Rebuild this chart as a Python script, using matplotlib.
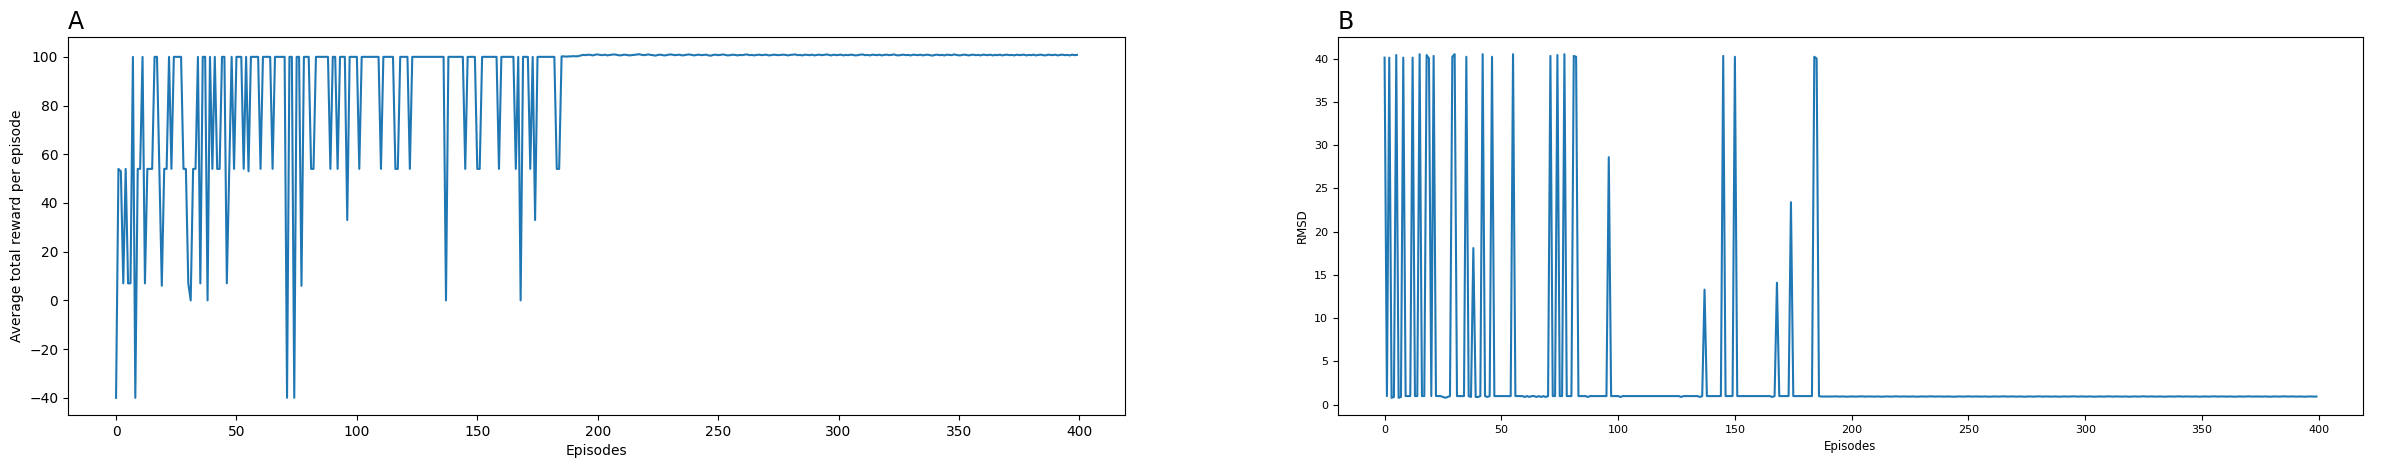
import matplotlib
matplotlib.use("Agg")
import matplotlib.pyplot as plt

# average total reward per episode (panel A)
reward = [
    -40, 54, 53, 7, 54, 7, 7, 100, -40, 54,
    54, 100, 7, 54, 54, 54, 100, 100, 53, 6,
    54, 54, 100, 54, 100, 100, 100, 100, 54, 54,
    7, 0, 54, 54, 100, 7, 100, 100, 0, 100,
    54, 100, 54, 54, 100, 100, 7, 53, 100, 54,
    100, 100, 100, 54, 100, 53, 100, 100, 100, 100,
    54, 100, 100, 100, 100, 54, 100, 100, 100, 100,
    100, -40, 100, 100, -40, 100, 100, 6, 100, 100,
    100, 54, 54, 100, 100, 100, 100, 100, 100, 54,
    100, 100, 54, 100, 100, 100, 33, 100, 100, 100,
    100, 54, 100, 100, 100, 100, 100, 100, 100, 100,
    54, 100, 100, 100, 100, 100, 54, 54, 100, 100,
    100, 100, 54, 100, 100, 100, 100, 100, 100, 100,
    100, 100, 100, 100, 100, 100, 100, 0, 100, 100,
    100, 100, 100, 100, 100, 54, 100, 100, 100, 100,
    54, 54, 100, 100, 100, 100, 100, 100, 100, 54,
    100, 100, 100, 100, 100, 100, 54, 100, 0, 100,
    100, 100, 54, 100, 33, 100, 100, 100, 100, 100,
    100, 100, 100, 54, 54,
    100.2, 100.2, 100.1, 100.2, 100.2, 100.3, 100.2, 100.3, 100.6, 100.8,
    100.7, 100.9, 100.8, 100.6, 100.9, 101.0, 100.8, 100.7, 100.9, 100.6,
    100.8, 100.9, 101.0, 100.8, 100.6, 100.7, 100.9, 100.8, 100.6, 100.7,
    100.8, 100.9, 101.1, 100.9, 100.7, 100.8, 101.0, 100.8, 100.7, 100.5,
    100.8, 100.9, 100.7, 100.6, 100.8, 101.0, 100.9, 100.7, 100.8, 100.9,
    100.6, 100.7, 100.9, 101.0, 100.8, 100.6, 100.8, 100.9, 100.7, 100.8,
    100.9, 100.6, 100.5, 100.8, 100.9, 100.7, 100.8, 101.0, 100.8, 100.6,
    100.7, 100.9, 100.8, 100.6, 100.8, 100.7, 100.9, 101.0, 100.7, 100.8,
    100.6, 100.8, 100.9, 100.7, 100.8, 100.9, 100.6, 100.7, 100.9, 100.8,
    100.7, 100.8, 100.9, 100.8, 100.6, 100.8, 100.9, 101.0, 100.7, 100.8,
    100.6, 100.9, 100.8, 100.7, 100.9, 100.6, 100.8, 100.9, 100.7, 100.8,
    101.0, 100.8, 100.6, 100.9, 100.7, 100.8, 100.9, 100.6, 100.8, 100.7,
    100.9, 100.8, 100.6, 100.7, 100.9, 101.0, 100.7, 100.8, 100.6, 100.9,
    100.8, 100.7, 100.9, 100.6, 100.8, 100.9, 100.7, 100.8, 101.0, 100.7,
    100.6, 100.8, 100.9, 100.7, 100.8, 100.6, 100.9, 100.8, 100.7, 100.9,
    100.6, 100.8, 100.9, 100.7, 100.5, 100.8, 100.9, 100.7, 100.8, 100.6,
    100.9, 100.8, 100.7, 101.0, 100.8, 100.6, 100.7, 100.9, 100.8, 100.6,
    100.8, 100.9, 100.7, 100.8, 100.6, 100.9, 100.8, 100.7, 100.9, 100.6,
    100.8, 100.7, 100.9, 100.6, 100.8, 100.9, 100.7, 100.8, 100.6, 100.9,
    100.7, 100.8, 100.9, 100.6, 100.8, 100.7, 100.9, 100.6, 100.8, 100.9,
    100.7, 100.6, 100.9, 100.8, 100.7, 100.9, 100.6, 100.8, 100.9, 100.7,
    100.8, 100.6, 100.9, 100.7, 100.8,
]

# RMSD per episode (panel B)
rmsd = [
    40.1, 1.0, 40.1, 0.8, 0.9, 40.4, 0.8, 0.9, 40.1, 1.0,      # 0
    1.0, 1.0, 40.1, 1.0, 1.0, 40.5, 1.0, 1.0, 40.4, 40.0,      # 10
    1.0, 40.3, 1.0, 1.0, 1.0, 0.9, 0.8, 0.9, 1.0, 40.2,        # 20
    40.5, 1.0, 1.0, 1.0, 1.0, 40.2, 1.0, 0.9, 18.1, 0.9,       # 30
    0.9, 1.0, 40.5, 1.0, 0.9, 1.0, 40.2, 1.0, 1.0, 1.0,        # 40
    1.0, 1.0, 1.0, 1.0, 1.0, 40.5, 1.0, 1.0, 1.0, 1.0,         # 50
    0.9, 1.0, 0.9, 1.0, 1.0, 0.9, 1.0, 0.9, 1.0, 0.9,          # 60
    1.0, 40.3, 1.0, 1.0, 40.4, 1.0, 1.0, 40.5, 1.0, 1.0,       # 70
    1.0, 40.3, 40.2, 1.0, 1.0, 1.0, 1.0, 0.9, 1.0, 1.0,        # 80
    1.0, 1.0, 1.0, 1.0, 1.0, 1.0, 28.6, 1.0, 1.0, 1.0,         # 90
    1.0, 0.9, 1.0, 1.0, 1.0, 1.0, 1.0, 1.0, 1.0, 1.0,          # 100
    1.0, 1.0, 1.0, 1.0, 1.0, 1.0, 1.0, 1.0, 1.0, 1.0,          # 110
    1.0, 1.0, 1.0, 1.0, 1.0, 1.0, 1.0, 0.9, 1.0, 1.0,          # 120
    1.0, 1.0, 1.0, 1.0, 1.0, 0.9, 1.0, 13.3, 1.0, 1.0,         # 130
    1.0, 1.0, 1.0, 1.0, 1.0, 40.3, 1.0, 1.0, 1.0, 1.0,         # 140
    40.2, 1.0, 1.0, 1.0, 1.0, 1.0, 1.0, 1.0, 1.0, 1.0,         # 150
    1.0, 1.0, 1.0, 1.0, 1.0, 1.0, 0.9, 1.0, 14.1, 1.0,         # 160
    1.0, 1.0, 1.0, 1.0, 23.4, 1.0, 1.0, 1.0, 1.0, 1.0,         # 170
    1.0, 1.0, 1.0, 1.0, 40.2, 40.0, 1.0, 0.95, 0.95, 0.95,     # 180
    0.96, 0.94, 0.95, 0.97, 0.95, 0.94, 0.96, 0.95, 0.93, 0.95,  # 190
    0.96, 0.95, 0.94, 0.95, 0.97, 0.95, 0.94, 0.96, 0.95, 0.95,  # 200
    0.94, 0.96, 0.95, 0.93, 0.95, 0.96, 0.95, 0.94, 0.95, 0.97,  # 210
    0.95, 0.94, 0.96, 0.95, 0.95, 0.94, 0.96, 0.95, 0.93, 0.95,  # 220
    0.96, 0.95, 0.94, 0.95, 0.97, 0.95, 0.94, 0.96, 0.95, 0.95,  # 230
    0.94, 0.96, 0.95, 0.95, 0.93, 0.95, 0.96, 0.95, 0.94, 0.95,  # 240
    0.97, 0.95, 0.94, 0.96, 0.95, 0.95, 0.94, 0.96, 0.95, 0.93,  # 250
    0.95, 0.96, 0.95, 0.94, 0.95, 0.97, 0.95, 0.94, 0.96, 0.95,  # 260
    0.95, 0.94, 0.96, 0.95, 0.93, 0.95, 0.96, 0.95, 0.94, 0.95,  # 270
    0.97, 0.95, 0.94, 0.96, 0.95, 0.95, 0.94, 0.96, 0.95, 0.93,  # 280
    0.95, 0.96, 0.95, 0.94, 0.95, 0.97, 0.95, 0.94, 0.96, 0.95,  # 290
    0.95, 0.94, 0.96, 0.95, 0.93, 0.95, 0.96, 0.95, 0.94, 0.95,  # 300
    0.97, 0.95, 0.94, 0.96, 0.95, 0.95, 0.94, 0.96, 0.95, 0.93,  # 310
    0.95, 0.96, 0.95, 0.94, 0.95, 0.97, 0.95, 0.94, 0.96, 0.95,  # 320
    0.95, 0.94, 0.96, 0.95, 0.93, 0.95, 0.96, 0.95, 0.94, 0.95,  # 330
    0.97, 0.95, 0.94, 0.96, 0.95, 0.95, 0.94, 0.96, 0.95, 0.93,  # 340
    0.95, 0.96, 0.95, 0.94, 0.95, 0.97, 0.95, 0.94, 0.96, 0.95,  # 350
    0.95, 0.94, 0.96, 0.95, 0.93, 0.95, 0.96, 0.95, 0.94, 0.95,  # 360
    0.97, 0.95, 0.94, 0.96, 0.95, 0.95, 0.94, 0.96, 0.95, 0.93,  # 370
    0.95, 0.96, 0.95, 0.94, 0.95, 0.97, 0.95, 0.94, 0.96, 0.95,  # 380
    0.95, 0.94, 0.96, 0.95, 0.93, 0.95, 0.96, 0.95, 0.94, 0.95,  # 390
]

assert len(reward) == 400, len(reward)
assert len(rmsd) == 400, len(rmsd)

episodes = list(range(len(reward)))

W, H = 2403, 468
fig = plt.figure(figsize=(W / 100, H / 100), dpi=100)

axA = fig.add_axes([68 / W, 53 / H, 1057 / W, 378 / H])
axA.plot(episodes, reward, color="#1f77b4", linewidth=1.5)
axA.set_xlabel("Episodes", fontsize=10)
axA.set_ylabel("Average total reward per episode", fontsize=10)
axA.set_title("A", loc="left", fontsize=17)
axA.tick_params(labelsize=10)

axB = fig.add_axes([1338 / W, 53 / H, 1025 / W, 378 / H])
axB.plot(episodes, rmsd, color="#1f77b4", linewidth=1.5)
axB.set_xlabel("Episodes", fontsize=8.5)
axB.set_ylabel("RMSD", fontsize=8.5)
axB.set_title("B", loc="left", fontsize=17)
axB.tick_params(labelsize=8)

fig.savefig("out.png", dpi=100)
